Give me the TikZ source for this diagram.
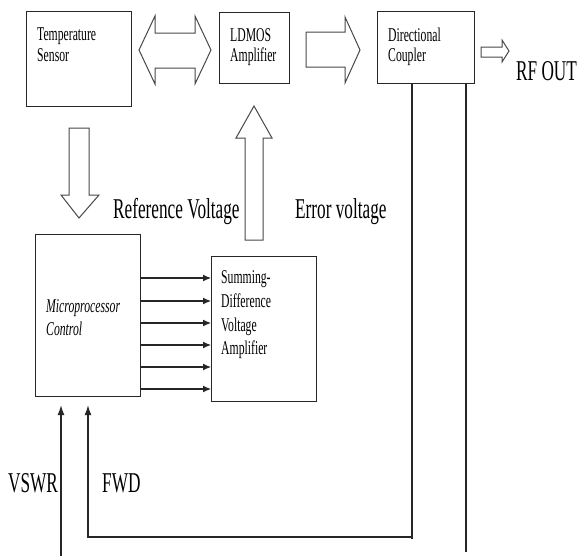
\documentclass[tikz,border=0pt]{standalone}
\usepackage{fontspec}
\setmainfont[FakeStretch=0.6]{Liberation Serif}
\usetikzlibrary{arrows.meta,calc}
\begin{document}
\begin{tikzpicture}[x=1pt,y=-1pt,
  box/.style={draw=black!85,line width=1.2pt,inner sep=0pt,anchor=north west},
  small/.style={inner sep=0pt,anchor=base west,font=\fontsize{19.5}{21}\selectfont},
  big/.style={inner sep=0pt,anchor=base west,font=\fontsize{28.7}{30}\selectfont},
  blockarrow/.style={draw=black!72,line width=1pt,fill=white,line join=miter},
  wire/.style={draw=black!85,line width=1.1pt},
  sig/.style={wire,-{Latex[length=8pt,width=7pt]}},
  feed/.style={wire,-{Latex[length=10pt,width=7pt]}}]
\useasboundingbox (0,0) rectangle (578,557);
% boxes
\node[box,minimum width=105pt,minimum height=95pt] (temp) at (26,11) {};
\node[box,minimum width=70pt,minimum height=71pt] (ldmos) at (219,12) {};
\node[box,minimum width=97pt,minimum height=72pt] (coup) at (377,11) {};
\node[box,minimum width=105pt,minimum height=162pt] (micro) at (35,234) {};
\node[box,minimum width=105pt,minimum height=145pt] (sum) at (211,256) {};
% box texts
\node[small] (t1) at (37,40) {Temperature};
\node[small] (t2) at (37,61) {Sensor};
\node[small] (l1) at (230,41) {LDMOS};
\node[small] (l2) at (230,61) {Amplifier};
\node[small] (c1) at (388,41) {Directional};
\node[small] (c2) at (388,61) {Coupler};
\node[small,font=\fontsize{19.5}{21}\selectfont\itshape] (m1) at (46,312) {Microprocessor};
\node[small,font=\fontsize{19.5}{21}\selectfont\itshape] (m2) at (46,335) {Control};
\node[small] (s1) at (221,283) {Summing-};
\node[small] (s2) at (221,307) {Difference};
\node[small] (s3) at (221,331) {Voltage};
\node[small] (s4) at (221,354) {Amplifier};
% labels
\node[big] (rv) at (113,218) {Reference Voltage};
\node[big] (ev) at (295,218) {Error voltage};
\node[big] (rf) at (516,80) {RF OUT};
\node[big] (vswr) at (8,492) {VSWR};
\node[big] (fwd) at (102,492) {FWD};
% block arrows
\draw[blockarrow] (139,50) -- (155,16) -- (155,33) -- (195,33) -- (195,16) -- (211,50)
  -- (195,84) -- (195,68) -- (155,68) -- (155,84) -- cycle;
\draw[blockarrow] (306,32) -- (345,32) -- (345,17) -- (360,50) -- (345,83) -- (345,67) -- (306,67) -- cycle;
\draw[blockarrow] (481,47) -- (502,47) -- (502,40) -- (509,51) -- (502,62) -- (502,57) -- (481,57) -- cycle;
\draw[blockarrow] (69,128) -- (89,128) -- (89,195) -- (99,195) -- (79,218) -- (61,195) -- (69,195) -- cycle;
\draw[blockarrow] (245,240) -- (263,240) -- (263,138) -- (272,138) -- (254,106) -- (236,138) -- (245,138) -- cycle;
% six signal lines
\foreach \yy in {278,301,323,345,367,389}
  \draw[sig] (micro.east |- 0,\yy) -- (sum.west |- 0,\yy);
% coupler feedback lines
\coordinate (cl) at (412,539);
\coordinate (cr) at (466,552);
\coordinate (vb) at (61,556);
\coordinate (fwdtip) at ($(micro.south -| 88,0)+(0,8)$);
\coordinate (vswrtip) at ($(micro.south -| 61,0)+(0,8)$);
\draw[wire] (coup.south -| 412,0) -- (cl);
\draw[wire] (coup.south -| 466,0) -- (cr);
\draw[feed] (412,537) -- (88,537) -- (fwdtip);
\draw[feed] (vb) -- (vswrtip);
\end{tikzpicture}
\end{document}
